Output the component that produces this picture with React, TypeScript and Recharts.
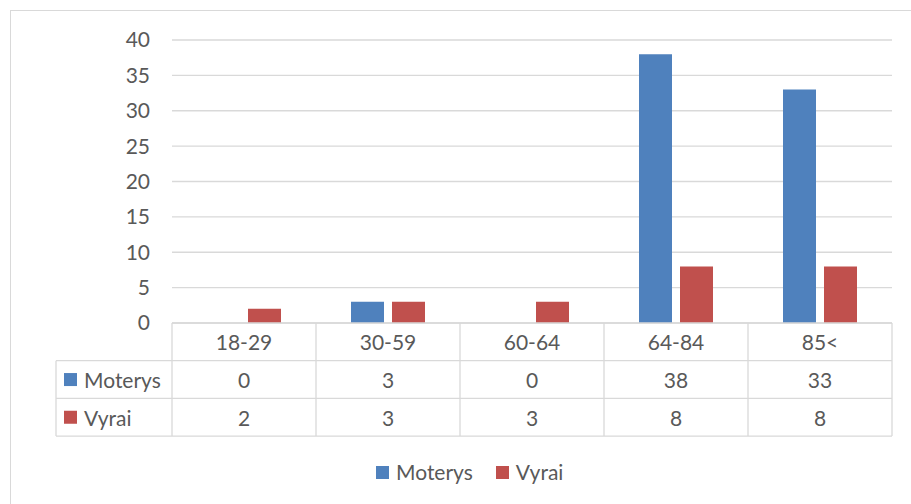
import React from 'react';
import { BarChart, Bar, XAxis, YAxis, CartesianGrid, Legend } from 'recharts';

const categories = ['18-29', '30-59', '60-64', '64-84', '85<'];
const moterys = [0, 3, 0, 38, 33];
const vyrai = [2, 3, 3, 8, 8];
const yTicks = [0, 5, 10, 15, 20, 25, 30, 35, 40];

const SERIES = [
  { key: 'Moterys', values: moterys, color: '#4F81BD' },
  { key: 'Vyrai', values: vyrai, color: '#C0504D' },
];

const data = categories.map((c, i) => ({ name: c, Moterys: moterys[i], Vyrai: vyrai[i] }));

const W = 911;
const H = 504;
const MARGIN = { top: 40, right: 19, left: 72, bottom: 44 };
const Y_AXIS_W = 100;
const PLOT_W = W - MARGIN.left - MARGIN.right - Y_AXIS_W;
const ROW_H = 37.7;
const LABEL_COL_W = 116;
const GRID = '#D9D9D9';
const TEXT = '#595959';
const FONT = 'Lato, "Noto Sans", sans-serif';
const FS = 21;

const TableTick = (props: any) => {
  const { x, y, index, payload } = props;
  const colW = PLOT_W / categories.length;
  const left = x - colW / 2;
  const right = x + colW / 2;
  const rows = [0, 1, 2, 3].map((k) => y + k * ROW_H);
  return (
    <g>
      {rows.map((ry, k) => (
        <line key={'h' + k} x1={left} x2={right} y1={ry} y2={ry} stroke={GRID} strokeWidth={1.3} />
      ))}
      <line x1={left} x2={left} y1={y} y2={rows[3]} stroke={GRID} strokeWidth={1.3} />
      {index === categories.length - 1 && (
        <line x1={right} x2={right} y1={y} y2={rows[3]} stroke={GRID} strokeWidth={1.3} />
      )}
      <text x={x} y={y + ROW_H / 2} textAnchor="middle" dominantBaseline="central" fill={TEXT} fontSize={FS} fontFamily={FONT}>
        {payload.value}
      </text>
      {SERIES.map((s, k) => (
        <text key={s.key} x={x} y={y + ROW_H * (k + 1.5)} textAnchor="middle" dominantBaseline="central" fill={TEXT} fontSize={FS} fontFamily={FONT}>
          {s.values[index]}
        </text>
      ))}
      {index === 0 && (
        <g>
          {[1, 2, 3].map((k) => (
            <line key={'l' + k} x1={left - LABEL_COL_W} x2={left} y1={rows[k]} y2={rows[k]} stroke={GRID} strokeWidth={1.3} />
          ))}
          <line x1={left - LABEL_COL_W} x2={left - LABEL_COL_W} y1={rows[1]} y2={rows[3]} stroke={GRID} strokeWidth={1.3} />
          {SERIES.map((s, k) => (
            <g key={s.key}>
              <rect x={left - LABEL_COL_W + 8} y={y + ROW_H * (k + 1.5) - 6.5} width={13} height={13} fill={s.color} />
              <text x={left - LABEL_COL_W + 28} y={y + ROW_H * (k + 1.5)} dominantBaseline="central" fill={TEXT} fontSize={FS} fontFamily={FONT}>
                {s.key}
              </text>
            </g>
          ))}
        </g>
      )}
    </g>
  );
};

const LegendContent = (props: any) => {
  const { payload } = props;
  return (
    <div style={{ display: 'flex', alignItems: 'center', height: 24, gap: 23, fontFamily: FONT, fontSize: FS, color: TEXT }}>
      {(payload || []).map((p: any) => (
        <div key={p.value} style={{ display: 'flex', alignItems: 'center' }}>
          <span style={{ display: 'inline-block', width: 13, height: 13, background: p.color, marginRight: 7 }} />
          <span style={{ lineHeight: '24px' }}>{p.value}</span>
        </div>
      ))}
    </div>
  );
};

export default function App() {
  return (
    <div style={{ position: 'relative', width: W, height: H, overflow: 'hidden', background: '#fff' }}>
      <style>{'body{margin:0}'}</style>
      <div style={{ position: 'absolute', left: 10, top: 10, width: 1200, height: 800, border: '1.5px solid ' + GRID, boxSizing: 'border-box' }} />
      <div style={{ position: 'absolute', left: 0, top: 0 }}>
        <BarChart width={W} height={H} data={data} margin={MARGIN} barSize={33} barGap={8}>
          <CartesianGrid vertical={false} stroke={GRID} strokeWidth={1.3} />
          <XAxis
            dataKey="name"
            height={113}
            interval={0}
            axisLine={false}
            tickLine={false}
            tickSize={0}
            tickMargin={0}
            tick={<TableTick />}
          />
          <YAxis
            width={Y_AXIS_W}
            domain={[0, 40]}
            ticks={yTicks}
            axisLine={false}
            tickLine={false}
            tickSize={0}
            tickMargin={22}
            tick={{ fill: TEXT, fontSize: FS, fontFamily: FONT }}
          />
          <Legend
            verticalAlign="bottom"
            content={<LegendContent />}
            wrapperStyle={{ left: 376, top: 460, width: 400 }}
          />
          {SERIES.map((s) => (
            <Bar key={s.key} dataKey={s.key} fill={s.color} isAnimationActive={false} />
          ))}
        </BarChart>
      </div>
    </div>
  );
}
